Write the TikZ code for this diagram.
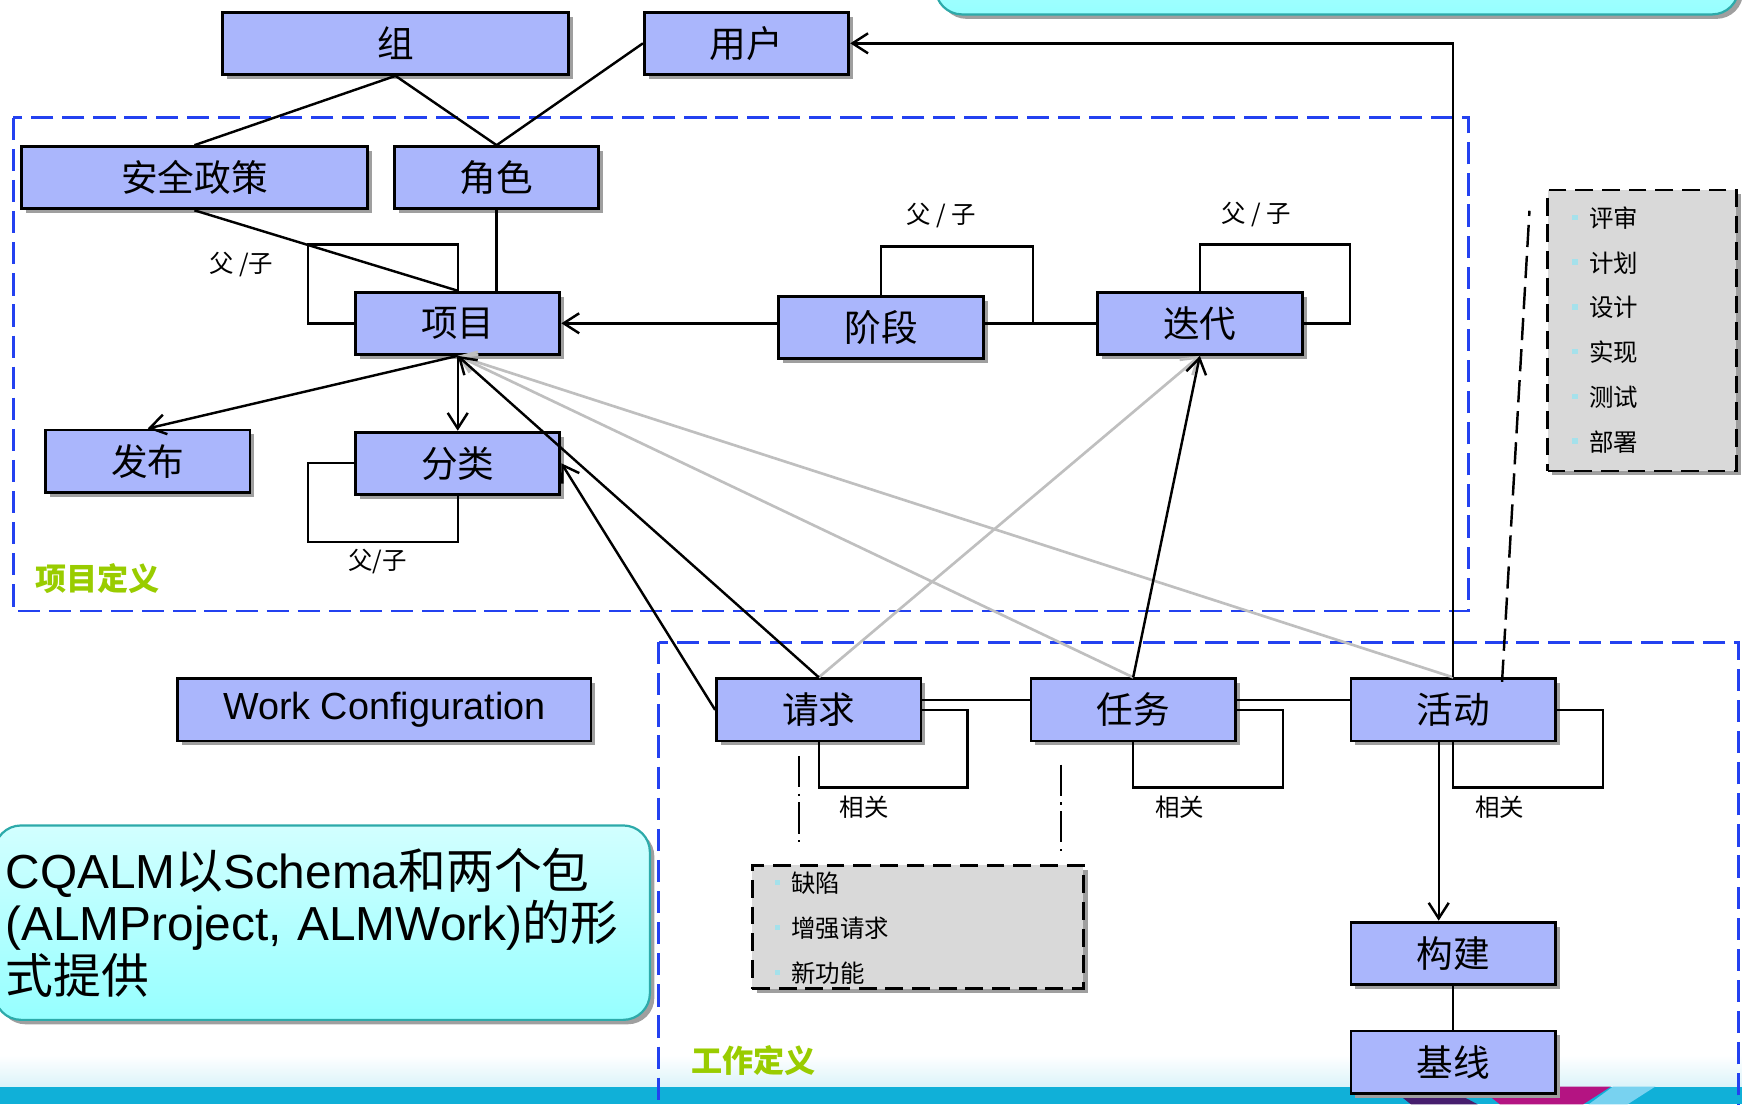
\documentclass[tikz,border=0pt]{standalone}
\usepackage{fontspec}
\setmainfont{Liberation Sans}
\newfontfamily\cjk{Noto Sans CJK SC}
\usetikzlibrary{arrows.meta,shadows}

\definecolor{boxblue}{RGB}{170,182,252}
\definecolor{frameblue}{RGB}{35,65,240}
\definecolor{labelgreen}{RGB}{153,204,0}
\definecolor{listgray}{RGB}{217,217,217}
\definecolor{bulletcyan}{RGB}{165,225,235}
\definecolor{notetop}{RGB}{210,255,255}
\definecolor{notebot}{RGB}{150,255,255}
\definecolor{noteline}{RGB}{45,170,170}
\definecolor{bandcyan}{RGB}{16,176,216}
\definecolor{bandpink}{RGB}{180,20,130}
\definecolor{bandpurple}{RGB}{70,30,110}
\definecolor{bandlight}{RGB}{120,210,240}

\newcommand{\bulletmark}{\textcolor{bulletcyan}{\rule[0.3em]{2.5pt}{2.5pt}}\hspace{5pt}}

\tikzset{
  boxshadow/.style={drop shadow={shadow xshift=2pt,shadow yshift=-2pt,fill=gray!75,opacity=1}},
  entity/.style={draw, line width=1.3pt, fill=boxblue, inner sep=0pt,
    minimum width=92pt, minimum height=28pt, boxshadow,
    font=\cjk\fontsize{16.5}{16.5}\selectfont},
  listbox/.style={draw, line width=1.3pt, dash pattern=on 8pt off 4pt,
    fill=listgray, inner sep=0pt, boxshadow},
  listtext/.style={anchor=west, inner sep=0pt, font=\cjk\fontsize{11}{11}\selectfont},
  looplabel/.style={inner sep=0pt, font=\cjk\fontsize{11}{11}\selectfont},
  defframe/.style={frameblue, line width=1.3pt, dash pattern=on 10pt off 4pt},
  arealabel/.style={labelgreen, inner sep=0pt, font=\cjk\bfseries\fontsize{14}{14}\selectfont},
  notebox/.style={draw=noteline, line width=1pt, rounded corners=12pt,
    top color=notetop, bottom color=notebot, boxshadow},
  conn/.style={line width=1.1pt},
  grayconn/.style={line width=1.2pt, gray!50},
  kindlink/.style={line width=1pt, dash pattern=on 14pt off 3pt on 1pt off 3pt},
  >={Straight Barb[length=7pt,width=9pt]}
}

\begin{document}
\begin{tikzpicture}[x=0.5pt,y=-0.5pt]
\useasboundingbox (0,0) rectangle (1568,994);

% slide background
\shade[top color=white, bottom color=bandcyan!15] (0,950) rectangle (1568,978);
\fill[bandcyan] (0,978) rectangle (1568,994);
\fill[bandpurple] (1250,978) -- (1300,978) -- (1330,994) -- (1270,994) -- cycle;
\fill[bandpink] (1330,978) -- (1450,978) -- (1425,994) -- (1350,994) -- cycle;
\fill[bandlight] (1452,978) -- (1490,978) -- (1465,994) -- (1430,994) -- cycle;

% definition areas
\draw[defframe] (12,106) rectangle (1322,550);
\draw[defframe] (593,578) rectangle (1565,1010);
\node[arealabel] (projarea) at (88,521) {项目定义};
\node[arealabel] (workarea) at (678,955) {工作定义};

% notes
\node[notebox, minimum width=361.5pt, minimum height=60pt] (topnote) at (1203.5,-47) {};
\node[notebox, minimum height=87.5pt, text width=285pt, inner sep=5pt, align=left,
  font=\fontsize{21.5}{23.5}\selectfont] (note) at (290,830.5)
  {CQALM{\cjk 以}Schema{\cjk 和两个包}\\(ALMProject, ALMWork){\cjk 的形}\\{\cjk 式提供}};

% entities
\node[entity, minimum width=155.5pt] (grp) at (356,39) {组};
\node[entity] (user) at (672,39) {用户};
\node[entity, minimum width=155.5pt] (secpol) at (175,160) {安全政策};
\node[entity] (role) at (447,160) {角色};
\node[entity] (proj) at (412,291) {项目};
\node[entity] (phase) at (793,295) {阶段};
\node[entity] (iter) at (1080,291) {迭代};
\node[entity] (rel) at (133,415) {发布};
\node[entity] (cat) at (412,417) {分类};
\node[entity, minimum width=186pt, font=\fontsize{17}{17}\selectfont] (wcfg) at (346,639) {Work Configuration};
\node[entity] (req) at (737,639) {请求};
\node[entity] (task) at (1020,639) {任务};
\node[entity] (act) at (1308,639) {活动};
\node[entity] (build) at (1308,858) {构建};
\node[entity] (base) at (1308,956) {基线};

% lists
\node[listbox, minimum width=85pt, minimum height=126.5pt] (stages) at (1478,297.5) {};
\foreach \stage [count=\i] in {评审,计划,设计,实现,测试,部署}
  \node[listtext] (stage\i) at (1415,{156+40.3*\i}) {\bulletmark\stage};
\node[listbox, minimum width=149pt, minimum height=55.5pt] (kinds) at (826,834.5) {};
\foreach \kind [count=\i] in {缺陷,增强请求,新功能}
  \node[listtext] (kind\i) at (697,{754.5+40.5*\i}) {\bulletmark\kind};

% loop corners
\coordinate (projloop) at (277,220);
\coordinate (phaseloop) at (930,222);
\coordinate (iterloop) at (1215,220);
\coordinate (catloop) at (277,488);
\coordinate (reqloop) at (871,709);
\coordinate (taskloop) at (1155,709);
\coordinate (actloop) at (1443,709);

% loop labels
\node[looplabel] (projtag) at (217,238) {父 /子};
\node[looplabel] (phasetag) at (847,194) {父 / 子};
\node[looplabel] (itertag) at (1131,193) {父 / 子};
\node[looplabel] (cattag) at (340,505) {父/子};
\node[looplabel] (reqtag) at (778,727) {相关};
\node[looplabel] (tasktag) at (1062,727) {相关};
\node[looplabel] (acttag) at (1350,727) {相关};

% top links
\draw[conn] (grp.south) -- (secpol.north);
\draw[conn] (grp.south) -- (role.north);
\draw[conn] (user.west) -- (role.north);
\draw[conn] (secpol.south) -- (proj.north);
\draw[conn] (role.south) -- (role.south |- proj.north);

% self loops
\draw[conn] (proj.west) -| (projloop) -| (proj.north);
\draw[conn] (phase.north) |- (phaseloop) |- (phase.east |- iter.west);
\draw[conn] (iter.north) |- (iterloop) |- (iter.east);
\draw[conn] (cat.west) -| (catloop) -| (cat.south);
\draw[conn] (req.east) -| (reqloop) -| (req.south);
\draw[conn] (task.east) -| (taskloop) -| (task.south);
\draw[conn] (act.east) -| (actloop) -| (act.south);

% project definition
\draw[conn,->] (phase.west |- proj.east) -- (proj.east);
\draw[conn] (phase.east |- iter.west) -- (iter.west);
\draw[conn,->] (proj.south) -- (rel.north);
\draw[conn,->] (proj.south) -- (cat.north);

% work definition
\draw[grayconn,->] (req.north) -- (iter.south);
\draw[grayconn,->] (task.north) -- (proj.south);
\draw[grayconn,->] (act.north) -- (proj.south);
\draw[conn,->] (req.north) -- (proj.south);
\draw[conn,->] (req.west) -- (cat.east);
\draw[conn,->] (task.north) -- (iter.south);
\draw[conn,->] (act.north) |- (user.east);
\draw[conn] ([yshift=4.5pt]req.east) -- ([yshift=4.5pt]task.west);
\draw[conn] ([yshift=4.5pt]task.east) -- ([yshift=4.5pt]act.west);
\draw[conn,->] ([xshift=-6.5pt]act.south) -- ([xshift=-6.5pt]build.north);
\draw[conn] (build.south) -- (base.north);

% list links
\draw[conn, dash pattern=on 10pt off 4pt] ([xshift=22pt,yshift=-2pt]act.north) -- ([xshift=-7.5pt,yshift=-10pt]stages.north west);
\draw[kindlink] ([xshift=-9pt,yshift=-6pt]req.south) -- ([xshift=-53.5pt,yshift=10pt]kinds.north);
\draw[kindlink] ([xshift=-32.5pt,yshift=-10pt]task.south) -- ([xshift=64.5pt,yshift=4pt]kinds.north);
\end{tikzpicture}
\end{document}
